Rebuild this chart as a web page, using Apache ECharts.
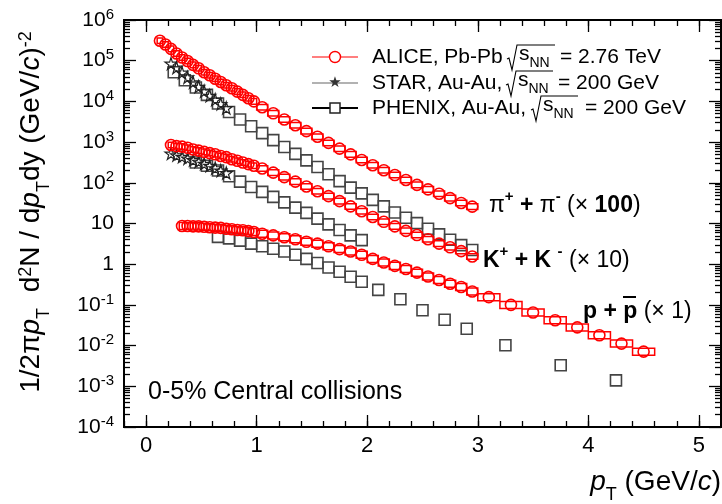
<!DOCTYPE html>
<html>
<head>
<meta charset="utf-8">
<script src="https://cdn.jsdelivr.net/npm/echarts@6/dist/echarts.min.js"></script>
<style>
html,body{margin:0;padding:0;background:#fff;}
#main{width:722px;height:504px;}
</style>
</head>
<body>
<div id="main"></div>
<script>
// ALICE Pb-Pb 2.76 TeV 0-5%  (pi x100, K x10, p x1)
var alicePiX = [0.125,0.175,0.225,0.275,0.325,0.375,0.425,0.475,0.525,0.575,0.625,0.675,0.725,0.775,0.825,0.875,0.925,0.975,
  1.05,1.15,1.25,1.35,1.45,1.55,1.65,1.75,1.85,1.95,2.05,2.15,2.25,2.35,2.45,2.55,2.65,2.75,2.85,2.95];
var alicePiY = [3.1e5,2.5e5,1.95e5,1.5e5,1.2e5,9.8e4,7.9e4,6.5e4,5.2e4,4.4e4,3.6e4,3.0e4,2.5e4,2.1e4,1.74e4,1.45e4,1.2e4,1.0e4,
  7.2e3,5.1e3,3.6e3,2.6e3,1.86e3,1.35e3,955,690,500,363,270,204,155,117,89,69,54,42,32,26];
var aliceKX = [0.225,0.275,0.325,0.375,0.425,0.475,0.525,0.575,0.625,0.675,0.725,0.775,0.825,0.875,0.925,0.975,
  1.05,1.15,1.25,1.35,1.45,1.55,1.65,1.75,1.85,1.95,2.05,2.15,2.25,2.35,2.45,2.55,2.65,2.75,2.85,2.95];
var aliceKY = [850,795,776,724,660,617,575,537,501,457,427,380,347,316,288,263,
  224,178,138,107,81,62,47,35.5,26.3,20,14.5,11,8.5,6.6,5.2,4.1,3.2,2.6,2.1,1.55];
var alicePX = [0.325,0.375,0.425,0.475,0.525,0.575,0.625,0.675,0.725,0.775,0.825,0.875,0.925,0.975,
  1.05,1.15,1.25,1.35,1.45,1.55,1.65,1.75,1.85,1.95,2.05,2.15,2.25,2.35,2.45,2.55,2.65,2.75,2.85,2.95,
  3.1,3.3,3.5,3.7,3.9,4.1,4.3,4.5];
var alicePY = [8.7,8.7,8.5,8.5,8.3,8.1,7.9,7.8,7.4,7.2,6.9,6.8,6.5,6.2,
  5.6,5.1,4.6,4.1,3.55,3.2,2.75,2.35,2.05,1.7,1.35,1.1,0.91,0.76,0.62,0.5,0.41,0.33,0.275,0.214,
  0.155,0.1,0.065,0.042,0.028,0.018,0.0112,0.0071];

// STAR Au-Au 200 GeV
var starPiX = [0.225,0.275,0.325,0.375,0.425,0.475,0.525,0.575,0.625,0.675,0.725];
var starPiY = [8.5e4,6.8e4,5.1e4,3.9e4,2.95e4,2.3e4,1.78e4,1.38e4,1.1e4,8.7e3,6.9e3];
var starKX = [0.225,0.275,0.325,0.375,0.425,0.475,0.525,0.575,0.625,0.675,0.725];
var starKY = [525,479,437,398,363,331,295,263,229,200,174];

// PHENIX Au-Au 200 GeV
var phenixPiX = [0.25,0.35,0.45,0.55,0.65,0.75,0.85,0.95,1.05,1.15,1.25,1.35,1.45,1.55,1.65,1.75,1.85,1.95,
  2.05,2.15,2.25,2.35,2.45,2.55,2.65,2.75,2.85,2.95];
var phenixPiY = [5.2e4,3.3e4,2.2e4,1.45e4,8.9e3,5.5e3,3.6e3,2.45e3,1.66e3,1.12e3,760,513,355,245,162,110,76,55,
  38,26.3,18.6,13.8,10.2,7.4,5.4,4.0,2.95,2.24];
var phenixKX = [0.45,0.55,0.65,0.75,0.85,0.95,1.05,1.15,1.25,1.35,1.45,1.55,1.65,1.75,1.85,1.95];
var phenixKY = [316,263,200,145,107,79,60,45,33,24.5,18.2,13.2,9.5,6.9,5.1,3.9];
var phenixPX = [0.65,0.75,0.85,0.95,1.05,1.15,1.25,1.35,1.45,1.55,1.65,1.75,1.85,1.95,2.1,2.3,2.5,2.7,2.9,3.25,3.75,4.25];
var phenixPY = [4.7,4.3,3.8,3.2,2.75,2.4,2.05,1.7,1.35,1.07,0.83,0.65,0.49,0.37,0.234,0.138,0.074,0.043,0.026,0.0102,0.0033,0.0014];

var xMajor = [0,1,2,3,4,5];
var yMajor = [1e-4,1e-3,1e-2,1e-1,1,10,1e2,1e3,1e4,1e5,1e6];

var FONT = '"Liberation Sans", Arial, Helvetica, sans-serif';
var RED = '#ff0000';

// minor tick positions
var xMinor = [];
for (var i = -1; i <= 26; i++) xMinor.push(Math.round(i * 0.2 * 10) / 10);
var yMinor = [];
for (var e = -4; e < 6; e++) {
    for (var m = 2; m <= 9; m++) yMinor.push(m * Math.pow(10, e));
}

function pairs(xs, ys) {
    return xs.map(function (x, i) { return [x, ys[i]]; });
}
// bin width of ALICE spectra
function binW(x) {
    return x < 1 ? 0.05 : (x < 3 ? 0.1 : 0.2);
}
function boxes(xs, ys) {
    return xs.map(function (x, i) { return [x, ys[i], binW(x)]; });
}

function xAx(pos, ticks, len, lab) {
    return {
        type: 'value', position: pos, min: -0.2, max: 5.2,
        axisLine: {show: true, onZero: false, lineStyle: {color: '#000', width: 2}},
        axisTick: {show: true, inside: true, length: len, customValues: ticks, lineStyle: {color: '#000', width: 1.3}},
        axisLabel: {show: lab, customValues: xMajor, margin: 8, color: '#000', fontSize: 22, fontFamily: FONT},
        splitLine: {show: false}
    };
}
function yAx(pos, ticks, len, lab) {
    return {
        type: 'log', logBase: 10, position: pos, min: 1e-4, max: 1e6,
        axisLine: {show: true, onZero: false, lineStyle: {color: '#000', width: 2}},
        axisTick: {show: true, inside: true, length: len, customValues: ticks, lineStyle: {color: '#000', width: 1.3}},
        axisLabel: {
            show: lab, customValues: yMajor, margin: 10, color: '#000', fontSize: 21, fontFamily: FONT,
            formatter: function (v) {
                var n = Math.round(Math.log10(v));
                if (n === 0) return '{m|1}';
                if (n === 1) return '{m|10}';
                return '{m|10}{s|' + n + '}';
            },
            rich: {
                m: {fontSize: 21, fontFamily: FONT, color: '#000', lineHeight: 26},
                s: {fontSize: 15, fontFamily: FONT, color: '#000', lineHeight: 15, verticalAlign: 'top'}
            }
        },
        splitLine: {show: false}
    };
}

function scat(name, data, sym, size, fill, stroke, bw, z) {
    return {
        name: name, type: 'scatter', data: data, symbol: sym, symbolSize: size,
        xAxisIndex: 0, yAxisIndex: 0, z: z, silent: true, animation: false,
        itemStyle: {color: fill, borderColor: stroke, borderWidth: bw, opacity: 1}
    };
}
function sysBox(name, data, rel) {
    return {
        name: name, type: 'custom', xAxisIndex: 0, yAxisIndex: 0, z: 6, silent: true, animation: false,
        data: data,
        renderItem: function (params, api) {
            var x = api.value(0), y = api.value(1), w = api.value(2);
            var a = api.coord([x - w / 2, y * (1 + rel)]);
            var b = api.coord([x + w / 2, y / (1 + rel)]);
            return {
                type: 'rect',
                shape: {x: a[0], y: a[1], width: b[0] - a[0], height: b[1] - a[1]},
                style: {fill: 'none', stroke: RED, lineWidth: 1.5}
            };
        }
    };
}

var STAR_PATH = 'path://M50,0 L61,35 L98,35 L68,57 L79,91 L50,70 L21,91 L32,57 L2,35 L39,35 Z';
var NONE = 'rgba(0,0,0,0)';

var series = [
    scat('phenixPi', pairs(phenixPiX, phenixPiY), 'rect', 11, NONE, '#444', 1.6, 2),
    scat('phenixK', pairs(phenixKX, phenixKY), 'rect', 11, NONE, '#444', 1.6, 2),
    scat('phenixP', pairs(phenixPX, phenixPY), 'rect', 11, NONE, '#444', 1.6, 2),
    scat('starPi', pairs(starPiX, starPiY), STAR_PATH, 12, NONE, '#222', 1.2, 3),
    scat('starK', pairs(starKX, starKY), STAR_PATH, 12, NONE, '#222', 1.2, 3),
    sysBox('alicePiSys', boxes(alicePiX, alicePiY), 0.17),
    sysBox('aliceKSys', boxes(aliceKX, aliceKY), 0.17),
    sysBox('alicePSys', boxes(alicePX, alicePY), 0.22),
    scat('alicePi', pairs(alicePiX, alicePiY), 'circle', 11, NONE, RED, 1.6, 7),
    scat('aliceK', pairs(aliceKX, aliceKY), 'circle', 11, NONE, RED, 1.6, 7),
    scat('aliceP', pairs(alicePX, alicePY), 'circle', 11, NONE, RED, 1.6, 7)
];

function txt(x, y, text, rich, extra) {
    var st = {text: text, rich: rich || {}, fontSize: 21, fontFamily: FONT, fill: '#000', align: 'left', verticalAlign: 'middle'};
    for (var k in extra) st[k] = extra[k];
    return {type: 'text', x: x, y: y, z: 20, style: st};
}
function radical(x0, ym, xend) {
    return {type: 'polyline', z: 20, shape: {points: [[x0, ym + 2], [x0 + 2, ym + 1], [x0 + 5, ym + 13], [x0 + 10, ym - 12], [xend, ym - 12]]},
        style: {stroke: '#000', lineWidth: 1.1, fill: null}};
}
var subRich = {
    s: {fontSize: 21, fontFamily: FONT, lineHeight: 26, verticalAlign: 'top'},
    n: {fontSize: 14, fontFamily: FONT, lineHeight: 14, verticalAlign: 'bottom'}
};
var titleRich = {
    t: {fontSize: 28, fontFamily: FONT, lineHeight: 36, verticalAlign: 'top'},
    i: {fontSize: 28, fontFamily: FONT, fontStyle: 'italic', lineHeight: 36, verticalAlign: 'top'},
    b: {fontSize: 18, fontFamily: FONT, lineHeight: 18, verticalAlign: 'bottom'},
    u: {fontSize: 18, fontFamily: FONT, lineHeight: 18, verticalAlign: 'top'}
};
var lblRich = {
    b: {fontSize: 23, fontFamily: FONT, fontWeight: 'bold', lineHeight: 28, verticalAlign: 'bottom'},
    r: {fontSize: 23, fontFamily: FONT, lineHeight: 28, verticalAlign: 'bottom'},
    u: {fontSize: 15, fontFamily: FONT, fontWeight: 'bold', lineHeight: 15, verticalAlign: 'top'}
};

var graphics = [
    // legend
    {type: 'line', z: 20, shape: {x1: 312, y1: 57, x2: 358, y2: 57}, style: {stroke: RED, lineWidth: 1.2}},
    {type: 'circle', z: 21, shape: {cx: 335, cy: 57, r: 5.5}, style: {fill: '#fff', stroke: RED, lineWidth: 1.4}},
    {type: 'line', z: 20, shape: {x1: 312, y1: 83, x2: 358, y2: 83}, style: {stroke: '#666', lineWidth: 1.2}},
    {type: 'text', z: 21, x: 335, y: 83, style: {text: '\u2605', fontSize: 15, fill: '#333', align: 'center', verticalAlign: 'middle', fontFamily: '"DejaVu Sans"'}},
    {type: 'line', z: 20, shape: {x1: 312, y1: 108, x2: 358, y2: 108}, style: {stroke: '#000', lineWidth: 2}},
    {type: 'rect', z: 21, shape: {x: 330, y: 103, width: 10, height: 10}, style: {fill: '#fff', stroke: '#222', lineWidth: 1.5}},
    txt(372, 57, 'ALICE, Pb-Pb'),
    radical(507, 57, 555),
    txt(519, 57, '{s|s}{n|NN}', subRich),
    txt(560, 57, '= 2.76 TeV'),
    txt(372, 83, 'STAR, Au-Au,'),
    radical(506, 83, 553),
    txt(518, 83, '{s|s}{n|NN}', subRich),
    txt(558, 83, '= 200 GeV'),
    txt(372, 108, 'PHENIX, Au-Au,'),
    radical(531, 108, 578),
    txt(543, 108, '{s|s}{n|NN}', subRich),
    txt(585, 108, '= 200 GeV'),
    // species labels
    txt(489, 203, '{r|\u03c0}{u|+}{b| + }{r|\u03c0}{u|-}{r| (\u00d7 }{b|100}{r|)}', lblRich),
    txt(483, 258, '{b|K}{u|+}{b| + K }{u|-}{r| (\u00d7 10)}', lblRich),
    txt(583, 309, '{b|p + p}{r| (\u00d7 1)}', lblRich),
    {type: 'line', z: 20, shape: {x1: 623, y1: 297, x2: 636, y2: 297}, style: {stroke: '#000', lineWidth: 2}},
    txt(148, 392, '0-5% Central collisions', null, {fontSize: 25}),
    // axis titles
    {type: 'text', z: 20, x: 721, y: 486, style: {
        text: '{i|p}{b|T}{t| (GeV/}{i|c}{t|)}', rich: titleRich, align: 'right', verticalAlign: 'middle'}},
    {type: 'text', z: 20, x: 35, y: 212, rotation: Math.PI / 2, style: {
        text: '{t|1/2\u03c0}{i|p}{b|T}{t|  d}{u|2}{t|N / d}{i|p}{b|T}{t|dy (GeV/}{i|c}{t|)}{u|-2}',
        rich: titleRich, align: 'center', verticalAlign: 'middle'}}
];

var myChart = echarts.init(document.getElementById('main'), null, {renderer: 'canvas'});
myChart.setOption({
    animation: false,
    backgroundColor: '#fff',
    grid: {left: 124, top: 20, right: 1, bottom: 77, containLabel: false},
    xAxis: [
        xAx('bottom', xMajor, 12, true),
        xAx('bottom', xMinor, 6, false),
        xAx('top', xMajor, 12, false),
        xAx('top', xMinor, 6, false)
    ],
    yAxis: [
        yAx('left', yMajor, 12, true),
        yAx('left', yMinor, 6, false),
        yAx('right', yMajor, 12, false),
        yAx('right', yMinor, 6, false)
    ],
    series: series,
    graphic: graphics
});
</script>
</body>
</html>
